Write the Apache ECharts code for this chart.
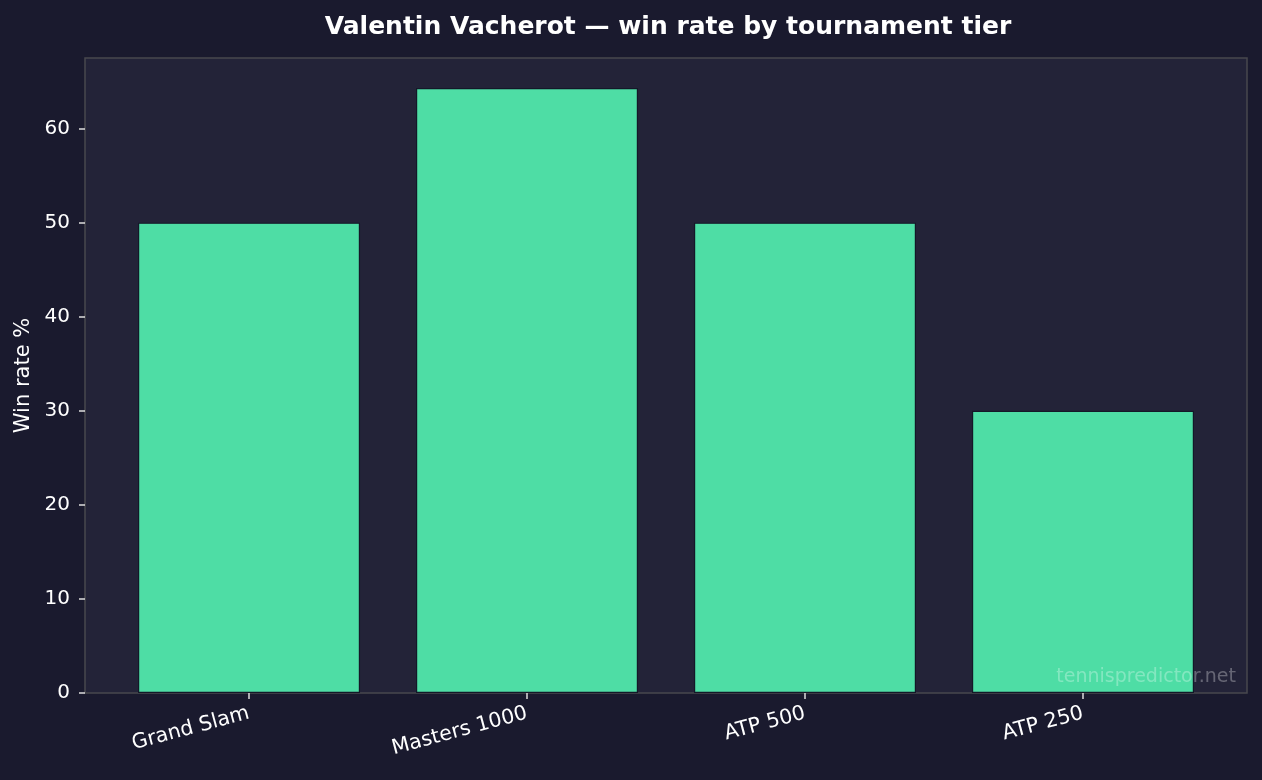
<!DOCTYPE html>
<html><head><meta charset="utf-8">
<script src="https://cdn.jsdelivr.net/npm/echarts@6/dist/echarts.min.js"></script>
<style>html,body{margin:0;padding:0;background:#1a1a2e;}#c{width:1262px;height:780px;}</style>
</head><body><div id="c"></div>
<script>
const categories = ['Grand Slam', 'Masters 1000', 'ATP 500', 'ATP 250'];
const winRate = [50.0, 64.3, 50.0, 30.0];
const yTicks = [0, 10, 20, 30, 40, 50, 60];
const titleText = 'Valentin Vacherot — win rate by tournament tier';
const yAxisName = 'Win rate %';
const watermark = 'tennispredictor.net';

const chart = echarts.init(document.getElementById('c'), null, {renderer: 'canvas'});
const font = "'DejaVu Sans'";
chart.setOption({
  backgroundColor: '#1a1a2e',
  animation: false,
  title: {
    text: titleText, left: 663, top: 10, textAlign: 'center',
    textStyle: {color: '#ffffff', fontFamily: font, fontWeight: 'bold', fontSize: 25}
  },
  grid: {left: 85, right: 15, top: 58, bottom: 87, show: true, backgroundColor: '#232338', borderColor: '#48484e', borderWidth: 1.5, containLabel: false},
  xAxis: {
    type: 'value', min: -0.59, max: 3.59,
    splitLine: {show: false},
    axisLine: {show: false, onZero: false},
    axisTick: {show: true, customValues: [0, 1, 2, 3], length: 6, inside: false, lineStyle: {color: '#dddddd', width: 1.5}},
    axisLabel: {
      customValues: [0, 1, 2, 3], rotate: 15, margin: 20,
      color: '#ffffff', fontFamily: font, fontSize: 20.5,
      formatter: v => categories[Math.round(v)]
    }
  },
  yAxis: {
    type: 'value', min: 0, max: 67.5,
    name: yAxisName, nameLocation: 'middle', nameGap: 48,
    nameTextStyle: {color: '#ffffff', fontFamily: font, fontSize: 21},
    splitLine: {show: false},
    axisLine: {show: false, onZero: false},
    axisTick: {show: true, customValues: yTicks, length: 6, lineStyle: {color: '#dddddd', width: 1.5}},
    axisLabel: {customValues: yTicks, color: '#ffffff', fontFamily: font, fontSize: 20, margin: 15}
  },
  series: [{
    type: 'bar',
    data: winRate.map((v, i) => [i, v]),
    barWidth: 222,
    itemStyle: {color: '#4edda5', borderColor: '#141828', borderWidth: 1.2}
  }],
  graphic: [{
    type: 'text', right: 26, bottom: 93, z: 100,
    style: {text: watermark, fill: 'rgba(255,255,255,0.3)', font: "19px 'DejaVu Sans'"}
  }]
});
</script></body></html>
